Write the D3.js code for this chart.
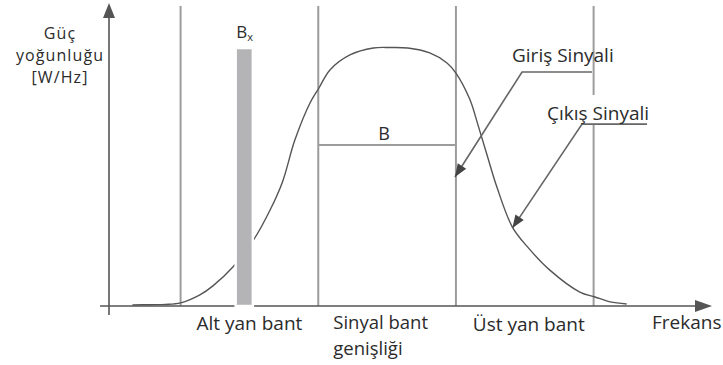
<!DOCTYPE html>
<html><head><meta charset="utf-8">
<script src="https://cdn.jsdelivr.net/npm/d3@7"></script>
<style>
html,body{margin:0;padding:0;background:#fff;}
svg{display:block;}
text{font-family:"Open Sans",sans-serif;fill:#2b2b2b;}
</style></head>
<body>
<svg id="c" width="723" height="365"></svg>
<script>
// ---- data (frequency in band units, power density normalised) ----
const bandEdges = [1.0, 2.0, 3.0, 4.0];
const freq = [0.65,0.78,0.89,1.0,1.14,1.235,1.38,1.53,1.65,1.74,1.83,1.94,2.005,2.085,2.23,2.40,2.52,2.65,2.81,2.935,3.0,3.10,3.16,3.226,3.30,3.41,3.52,3.68,3.90,4.01,4.12,4.24];
const power = [0.004,0.005,0.006,0.012,0.043,0.078,0.151,0.256,0.372,0.481,0.643,0.787,0.845,0.915,0.973,1.0,1.002,1.0,0.981,0.942,0.903,0.802,0.702,0.585,0.457,0.306,0.229,0.140,0.054,0.035,0.016,0.008];
const bxBand = [1.40, 1.525];
const bxHeight = 1.0;
const bLevel = 0.624;
const yLabel = ["Güç", "yoğunluğu", "[W/Hz]"];
const bandLabels = [["Alt yan bant"], ["Sinyal bant", "genişliği"], ["Üst yan bant"]];
const xLabel = "Frekans";
const inputLabel = "Giriş Sinyali";
const outputLabel = "Çıkış Sinyali";
// annotation anchors: [label end, elbow, tip] in data units
const inputArrow = [[3.988, 0.907], [3.48, 0.907], [2.993, 0.50]];
const outputArrow = [[4.388, 0.705], [3.916, 0.705], [3.41, 0.302]];

const svg = d3.select("#c");
const x = d3.scaleLinear().domain([0.48, 4.86]).range([109, 712]);
const y = d3.scaleLinear().domain([0, 1]).range([306, 48]);

const grey = "#9c9c9c", dark = "#555";

// vertical band lines
const vTop = 1.163;
bandEdges.forEach((b, i) => {
  const segs = i === 3 ? [[vTop, 0.818], [0.705, 0]] : [[vTop, 0]];
  segs.forEach(s => svg.append("line").attr("x1", x(b)).attr("x2", x(b))
    .attr("y1", y(s[0])).attr("y2", y(s[1])).attr("stroke", grey).attr("stroke-width", 2));
});

// B bandwidth line
svg.append("line").attr("x1", x(bandEdges[1])).attr("x2", x(bandEdges[2]))
  .attr("y1", y(bLevel)).attr("y2", y(bLevel)).attr("stroke", grey).attr("stroke-width", 2);

// axes
svg.append("line").attr("x1", x(0.415)).attr("x2", x(4.86) - 10).attr("y1", y(0)).attr("y2", y(0))
  .attr("stroke", dark).attr("stroke-width", 1.6);
svg.append("line").attr("x1", x(0.48)).attr("x2", x(0.48)).attr("y1", y(-0.035)).attr("y2", y(1.174) + 10)
  .attr("stroke", dark).attr("stroke-width", 1.6);

function arrowHead(tip, from, len, half, color) {
  const dx = tip[0] - from[0], dy = tip[1] - from[1];
  const d = Math.hypot(dx, dy), ux = dx / d, uy = dy / d;
  const bx = tip[0] - ux * len, by = tip[1] - uy * len;
  const pts = [tip, [bx - uy * half, by + ux * half], [bx + uy * half, by - ux * half]];
  svg.append("path").attr("d", "M" + pts.map(p => p.join(",")).join("L") + "Z").attr("fill", color);
}
arrowHead([x(4.86), y(0)], [x(0.415), y(0)], 17, 6, dark);
arrowHead([x(0.48), y(1.174)], [x(0.48), y(0)], 15, 6, dark);

// signal curve
const line = d3.line().x((d, i) => x(freq[i])).y((d, i) => y(power[i])).curve(d3.curveCatmullRom.alpha(0.5));
svg.append("path").attr("d", line(power)).attr("fill", "none").attr("stroke", "#555").attr("stroke-width", 1.4);

// Bx bar
svg.append("rect").attr("x", x(bxBand[0])).attr("width", x(bxBand[1]) - x(bxBand[0]))
  .attr("y", y(bxHeight)).attr("height", y(0) - y(bxHeight))
  .attr("fill", "#b4b4b6").attr("stroke", "#fff").attr("stroke-width", 2.5);

// annotation leaders
function leader(pts) {
  const p = pts.map(d => [x(d[0]), y(d[1])]);
  svg.append("path").attr("d", d3.line()(p)).attr("fill", "none").attr("stroke", "#666").attr("stroke-width", 1.6);
  arrowHead(p[2], p[1], 13, 5, "#444");
}
leader(inputArrow);
leader(outputArrow);

// texts
const fs = 19;
yLabel.forEach((t, i) => svg.append("text").attr("x", 60).attr("y", 39 + i * 22)
  .attr("text-anchor", "middle").attr("font-size", 16).attr("letter-spacing", 1.1).text(t));

const bx = svg.append("text").attr("x", x((bxBand[0] + bxBand[1]) / 2) - 8).attr("y", 38).attr("font-size", 17);
bx.append("tspan").text("B");
bx.append("tspan").attr("font-size", 11).attr("dy", 3).text("x");

svg.append("text").attr("x", x((bandEdges[1] + bandEdges[2]) / 2) - 3).attr("y", 140)
  .attr("text-anchor", "middle").attr("font-size", 18).text("B");

// band labels
svg.append("text").attr("x", x((bandEdges[0] + bandEdges[1]) / 2)).attr("y", 330)
  .attr("text-anchor", "middle").attr("font-size", fs).text(bandLabels[0][0]);
bandLabels[1].forEach((t, i) => svg.append("text").attr("x", x(bandEdges[1]) + 15).attr("y", 329 + i * 26)
  .attr("font-size", 18.5).text(t));
svg.append("text").attr("x", x((bandEdges[2] + bandEdges[3]) / 2) + 4).attr("y", 331)
  .attr("text-anchor", "middle").attr("font-size", fs).text(bandLabels[2][0]);
svg.append("text").attr("x", 652).attr("y", 329).attr("font-size", fs).text(xLabel);

svg.append("text").attr("x", 512).attr("y", 62).attr("font-size", fs).text(inputLabel);
svg.append("text").attr("x", 547).attr("y", 120).attr("font-size", fs).text(outputLabel);
</script>
</body></html>
